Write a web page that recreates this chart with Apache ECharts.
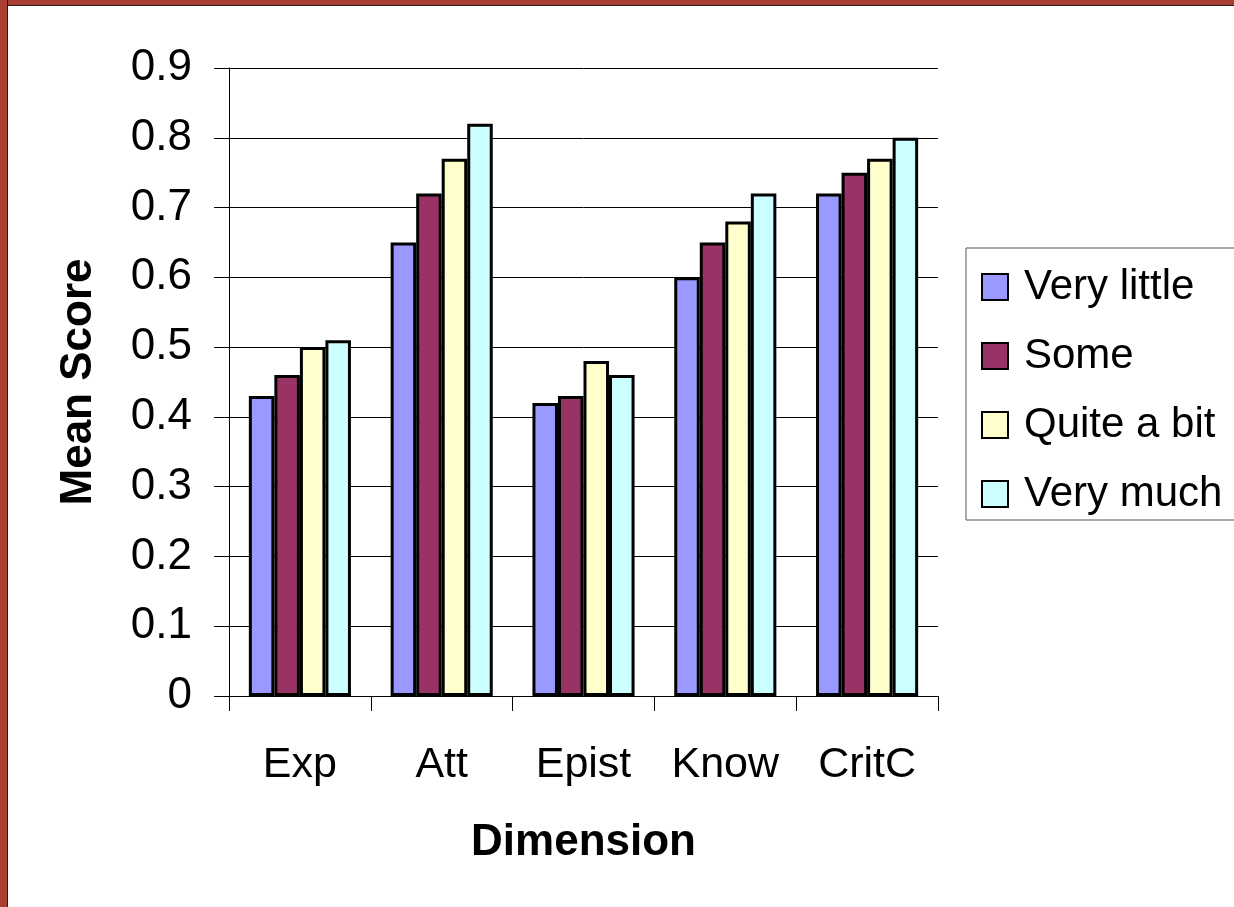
<!DOCTYPE html>
<html>
<head>
<meta charset="utf-8">
<script src="https://cdn.jsdelivr.net/npm/echarts@6/dist/echarts.min.js"></script>
<style>
  html, body { margin: 0; padding: 0; background: #fff; }
  #wrap { position: relative; width: 1234px; height: 907px; overflow: hidden; }
  #chart { position: absolute; left: 0; top: 0; width: 1234px; height: 907px; }
  /* slide frame: red band with a dark inner line on top and left */
  .frameTop { position: absolute; left: 0; top: 0; width: 1234px; height: 5px; background: #a93f33; border-bottom: 1px solid #2a1a18; }
  .frameLeft { position: absolute; left: 0; top: 0; width: 7px; height: 907px; background: #a93f33; border-right: 1px solid #2a1a18; }
</style>
</head>
<body>
<div id="wrap">
  <div id="chart"></div>
  <div class="frameTop"></div>
  <div class="frameLeft"></div>
</div>
<script>
// categories (x axis)
const dimensions = ['Exp', 'Att', 'Epist', 'Know', 'CritC'];
// series names
const levels = ['Very little', 'Some', 'Quite a bit', 'Very much'];
// mean score per dimension, one array per level
const veryLittle = [0.43, 0.65, 0.42, 0.60, 0.72];
const some = [0.46, 0.72, 0.43, 0.65, 0.75];
const quiteABit = [0.50, 0.77, 0.48, 0.68, 0.77];
const veryMuch = [0.51, 0.82, 0.46, 0.72, 0.80];
const seriesValues = [veryLittle, some, quiteABit, veryMuch];
const barColors = ['#9999ff', '#993366', '#ffffcc', '#ccffff'];

const fontFam = "'Liberation Sans', Arial, sans-serif";

const chart = echarts.init(document.getElementById('chart'));

const option = {
  animation: false,
  backgroundColor: 'transparent',
  textStyle: { fontFamily: fontFam, color: '#000' },
  grid: {
    left: 229,
    right: 296,
    top: 68,
    bottom: 211
  },
  legend: {
    orient: 'vertical',
    left: 966,
    top: 248,
    padding: [18, 20, 5, 15],
    itemGap: 27,
    itemWidth: 26,
    itemHeight: 26,
    borderColor: '#555',
    borderWidth: 1,
    icon: 'rect',
    textStyle: { fontSize: 42, lineHeight: 42, color: '#000', fontFamily: fontFam, padding: [0, 0, 0, 11] },
    data: levels
  },
  xAxis: {
    type: 'category',
    data: dimensions,
    name: 'Dimension',
    nameLocation: 'middle',
    nameGap: 125,
    nameTextStyle: { fontSize: 44, fontWeight: 'bold', color: '#000', fontFamily: fontFam },
    axisLine: { lineStyle: { color: '#000', width: 1 } },
    axisTick: { show: true, length: 15, lineStyle: { color: '#000' } },
    axisLabel: { fontSize: 43, color: '#000', margin: 48, fontFamily: fontFam }
  },
  yAxis: {
    type: 'value',
    min: 0,
    max: 0.9,
    interval: 0.1,
    name: 'Mean Score',
    nameLocation: 'middle',
    nameGap: 128,
    nameRotate: 90,
    nameTextStyle: { fontSize: 44, fontWeight: 'bold', color: '#000', fontFamily: fontFam },
    axisLine: { show: true, lineStyle: { color: '#000', width: 1 } },
    axisTick: { show: true, length: 15, lineStyle: { color: '#000' } },
    axisLabel: {
      fontSize: 44,
      color: '#000',
      margin: 37,
      fontFamily: fontFam,
      formatter: function (v) { return v === 0 ? '0' : String(+v.toFixed(1)); }
    },
    splitLine: { show: true, lineStyle: { color: '#000', width: 1 } }
  },
  series: levels.map(function (name, i) {
    return {
      name: name,
      type: 'bar',
      data: seriesValues[i],
      barGap: '0%',
      barCategoryGap: '28%',
      itemStyle: { color: barColors[i], borderColor: '#000', borderWidth: 3 }
    };
  })
};

chart.setOption(option);
</script>
</body>
</html>
